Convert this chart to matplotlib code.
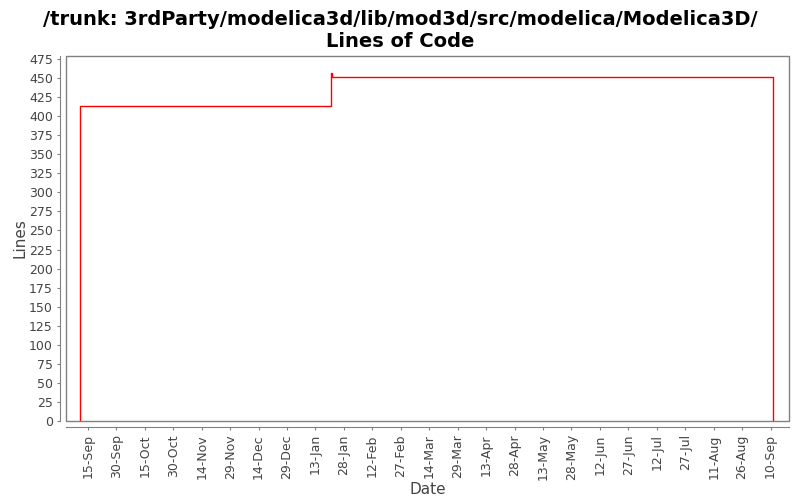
import datetime as dt
import matplotlib
matplotlib.use('Agg')
import matplotlib.pyplot as plt
from matplotlib.patches import Rectangle

# step series: lines of code over time
dates = [dt.datetime(2008, 9, 10, 18), dt.datetime(2008, 9, 10, 18),
         dt.datetime(2009, 1, 21, 8), dt.datetime(2009, 1, 21, 18),
         dt.datetime(2009, 9, 11, 6), dt.datetime(2009, 9, 11, 6)]
lines = [0, 414, 457, 451, 451, 0]

tick_dates = [dt.datetime(2008, 9, 15) + dt.timedelta(days=15 * i) for i in range(25)]
tick_labels = [d.strftime('%d-%b').lstrip('0') for d in tick_dates]

fig = plt.figure(figsize=(8, 5), dpi=100)
ax = fig.add_axes([0.0825, 0.158, 0.904, 0.730])

ax.plot(dates, lines, color='red', lw=1, drawstyle='steps-post')

# plot outline + offset axis lines (set before ticks: set_position resets them)
ax.add_patch(Rectangle((0, 0), 1, 1, transform=ax.transAxes, fill=False,
                       ec='#808080', lw=1, clip_on=False))
for s in ['top', 'right']:
    ax.spines[s].set_visible(False)
for s in ['left', 'bottom']:
    ax.spines[s].set_position(('outward', 4))
    ax.spines[s].set_color('#808080')

ax.set_xlim(dt.datetime(2008, 9, 3, 10), dt.datetime(2009, 9, 19, 20))
ax.set_ylim(0, 479)
ax.set_yticks(range(0, 476, 25))
ax.set_xticks(tick_dates)
ax.set_xticklabels(tick_labels)
ax.tick_params(colors='#808080', labelcolor='#444444', labelsize=9, length=2)
ax.tick_params(axis='x', labelrotation=90)

ax.set_xlabel('Date', fontsize=11, color='#444444', labelpad=1)
ax.set_ylabel('Lines', fontsize=11, color='#444444', labelpad=1)
fig.suptitle('/trunk: 3rdParty/modelica3d/lib/mod3d/src/modelica/Modelica3D/\nLines of Code',
             fontsize=14, fontweight='bold', y=0.98)

fig.savefig('out.png', dpi=100)
